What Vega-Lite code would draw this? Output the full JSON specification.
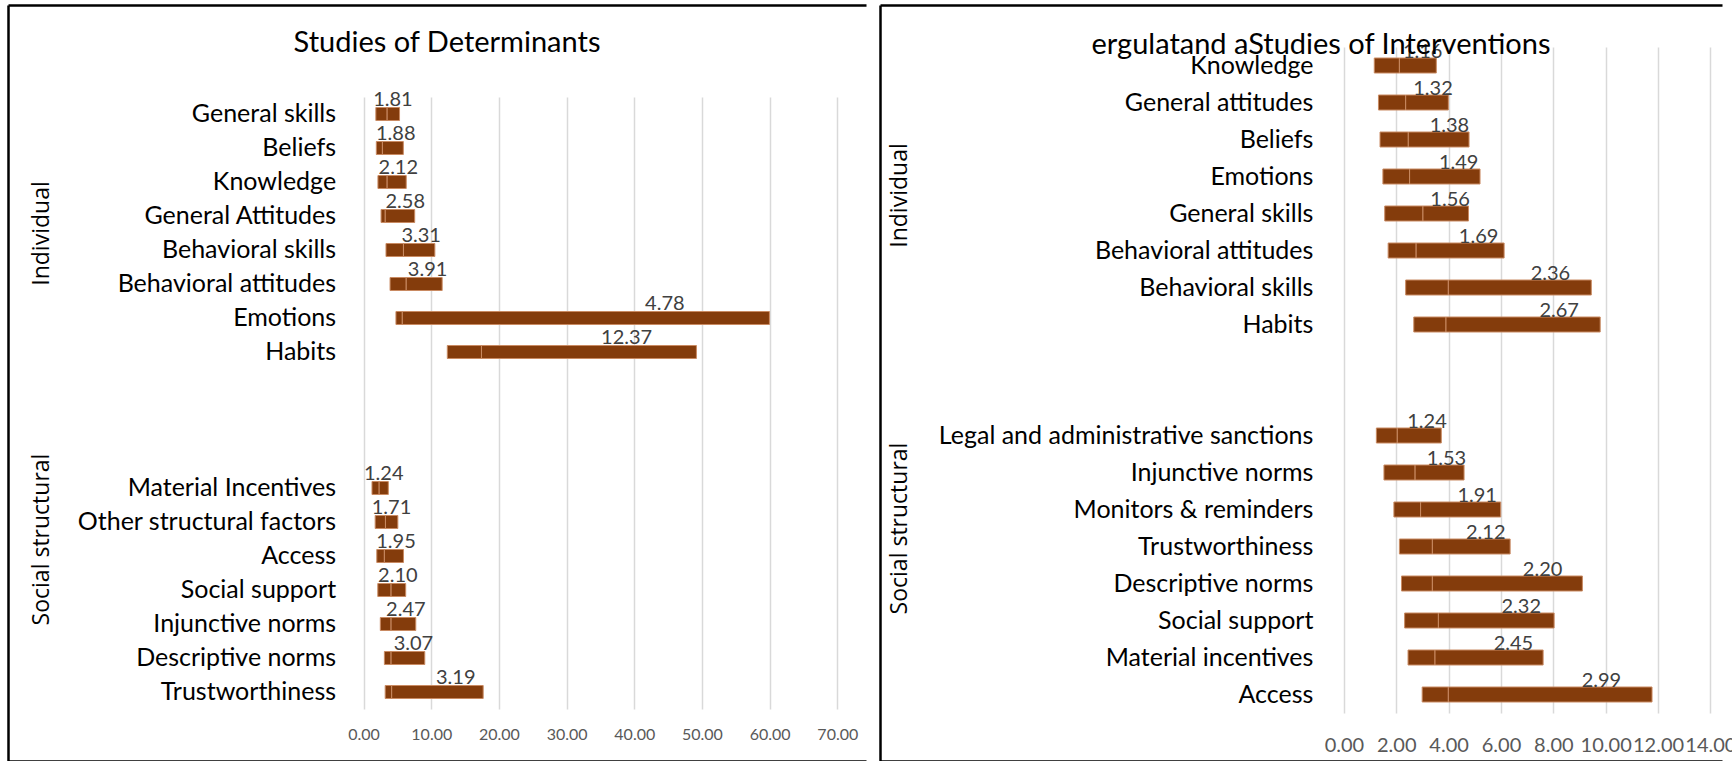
{
  "$schema": "https://vega.github.io/schema/vega-lite/v6.json",
  "padding": {"left": 8, "top": 5, "right": 0, "bottom": 0},
  "background": "white",
  "spacing": 14,
  "config": {"view": {"stroke": null}, "font": "Lato"},
  "datasets": {
    "determinants": [
      {"group": "Individual", "item": "General skills", "lo": 1.81, "mid": 3.48, "hi": 5.31},
      {"group": "Individual", "item": "Beliefs", "lo": 1.88, "mid": 2.78, "hi": 5.87},
      {"group": "Individual", "item": "Knowledge", "lo": 2.12, "mid": 3.48, "hi": 6.3},
      {"group": "Individual", "item": "General Attitudes", "lo": 2.58, "mid": 3.2, "hi": 7.55},
      {"group": "Individual", "item": "Behavioral skills", "lo": 3.31, "mid": 5.89, "hi": 10.53},
      {"group": "Individual", "item": "Behavioral attitudes", "lo": 3.91, "mid": 6.3, "hi": 11.61},
      {"group": "Individual", "item": "Emotions", "lo": 4.78, "mid": 5.72, "hi": 59.97},
      {"group": "Individual", "item": "Habits", "lo": 12.37, "mid": 17.42, "hi": 49.18},
      {"group": "Social structural", "item": "Material Incentives", "lo": 1.24, "mid": 2.3, "hi": 3.65},
      {"group": "Social structural", "item": "Other structural factors", "lo": 1.71, "mid": 3.23, "hi": 5.06},
      {"group": "Social structural", "item": "Access", "lo": 1.95, "mid": 3.07, "hi": 5.89},
      {"group": "Social structural", "item": "Social support", "lo": 2.10, "mid": 4.06, "hi": 6.22},
      {"group": "Social structural", "item": "Injunctive norms", "lo": 2.47, "mid": 4.06, "hi": 7.71},
      {"group": "Social structural", "item": "Descriptive norms", "lo": 3.07, "mid": 4.06, "hi": 9.04},
      {"group": "Social structural", "item": "Trustworthiness", "lo": 3.19, "mid": 4.15, "hi": 17.67}
    ],
    "interventions": [
      {"group": "Individual", "item": "Knowledge", "lo": 1.16, "mid": 2.12, "hi": 3.53},
      {"group": "Individual", "item": "General attitudes", "lo": 1.32, "mid": 2.36, "hi": 3.99},
      {"group": "Individual", "item": "Beliefs", "lo": 1.38, "mid": 2.46, "hi": 4.78},
      {"group": "Individual", "item": "Emotions", "lo": 1.49, "mid": 2.51, "hi": 5.2},
      {"group": "Individual", "item": "General skills", "lo": 1.56, "mid": 3.02, "hi": 4.76},
      {"group": "Individual", "item": "Behavioral attitudes", "lo": 1.69, "mid": 2.76, "hi": 6.12},
      {"group": "Individual", "item": "Behavioral skills", "lo": 2.36, "mid": 3.99, "hi": 9.45},
      {"group": "Individual", "item": "Habits", "lo": 2.67, "mid": 3.9, "hi": 9.79},
      {"group": "Social structural", "item": "Legal and administrative sanctions", "lo": 1.24, "mid": 2.04, "hi": 3.72},
      {"group": "Social structural", "item": "Injunctive norms", "lo": 1.53, "mid": 2.72, "hi": 4.59},
      {"group": "Social structural", "item": "Monitors & reminders", "lo": 1.91, "mid": 2.93, "hi": 5.99},
      {"group": "Social structural", "item": "Trustworthiness", "lo": 2.12, "mid": 3.38, "hi": 6.35},
      {"group": "Social structural", "item": "Descriptive norms", "lo": 2.20, "mid": 3.38, "hi": 9.11},
      {"group": "Social structural", "item": "Social support", "lo": 2.32, "mid": 3.61, "hi": 8.03},
      {"group": "Social structural", "item": "Material incentives", "lo": 2.45, "mid": 3.48, "hi": 7.61},
      {"group": "Social structural", "item": "Access", "lo": 2.99, "mid": 3.99, "hi": 11.77}
    ]
  },
  "hconcat": [
    {
      "width": 858,
      "height": 756,
      "title": {"text": "Studies of Determinants", "font": "Lato", "fontSize": 29, "fontWeight": "normal", "color": "black", "anchor": "middle", "frame": "group", "baseline": "middle", "offset": 0, "dy": 67, "dx": 10},
      "data": {"name": "determinants"},
      "transform": [{"calculate": "datum.lo + 0.72 * (datum.hi - datum.lo)", "as": "labelAt"}],
      "layer": [
        {
          "mark": {"type": "bar", "size": 13, "color": "#843C0C", "stroke": "#c98a62", "strokeWidth": 1},
          "encoding": {
            "x": {"field": "lo", "type": "quantitative", "scale": {"domain": [0, 70], "range": [355.6, 829.3], "nice": false, "zero": false},
              "axis": {"orient": "top", "values": [0, 10, 20, 30, 40, 50, 60, 70], "format": ".2f", "offset": 0, "labelPadding": -729, "labelBaseline": "middle", "tickSize": 0, "ticks": false, "domain": false, "grid": true, "gridColor": "#d9d9d9", "gridWidth": 1.5, "title": null, "labelFont": "Lato", "labelFontSize": 16, "labelColor": "#595959", "labelFlush": false, "labelOverlap": false}},
            "x2": {"field": "mid"},
            "y": {"field": "item", "type": "nominal",
              "scale": {"domain": ["General skills", "Beliefs", "Knowledge", "General Attitudes", "Behavioral skills", "Behavioral attitudes", "Emotions", "Habits", " ", "  ", "   ", "Material Incentives", "Other structural factors", "Access", "Social support", "Injunctive norms", "Descriptive norms", "Trustworthiness"], "range": [92, 704], "paddingInner": 0, "paddingOuter": 0},
              "axis": {"orient": "left", "offset": -355.6, "labelPadding": 28, "tickSize": 0, "ticks": false, "domain": false, "grid": false, "title": null, "labelFont": "Lato", "labelFontSize": 25, "labelColor": "black", "labelLimit": 0}}
          }
        },
        {
          "mark": {"type": "bar", "size": 13, "color": "#843C0C", "stroke": "#c98a62", "strokeWidth": 1},
          "encoding": {
            "x": {"field": "mid", "type": "quantitative", "scale": {"domain": [0, 70], "range": [355.6, 829.3], "nice": false, "zero": false}, "axis": null},
            "x2": {"field": "hi"},
            "y": {"field": "item", "type": "nominal",
              "scale": {"domain": ["General skills", "Beliefs", "Knowledge", "General Attitudes", "Behavioral skills", "Behavioral attitudes", "Emotions", "Habits", " ", "  ", "   ", "Material Incentives", "Other structural factors", "Access", "Social support", "Injunctive norms", "Descriptive norms", "Trustworthiness"], "range": [92, 704], "paddingInner": 0, "paddingOuter": 0},
              "axis": null}
          }
        },
        {
          "mark": {"type": "text", "font": "Lato", "fontSize": 20, "color": "#404040", "align": "center", "baseline": "alphabetic", "dy": -8},
          "encoding": {
            "x": {"field": "labelAt", "type": "quantitative", "scale": {"domain": [0, 70], "range": [355.6, 829.3], "nice": false, "zero": false}, "axis": null},
            "text": {"field": "lo", "type": "quantitative", "format": ".2f"},
            "y": {"field": "item", "type": "nominal",
              "scale": {"domain": ["General skills", "Beliefs", "Knowledge", "General Attitudes", "Behavioral skills", "Behavioral attitudes", "Emotions", "Habits", " ", "  ", "   ", "Material Incentives", "Other structural factors", "Access", "Social support", "Injunctive norms", "Descriptive norms", "Trustworthiness"], "range": [92, 704], "paddingInner": 0, "paddingOuter": 0},
              "axis": {"orient": "left", "offset": 0, "labelOffset": 17, "labelExpr": "datum.value === 'General Attitudes' ? 'Individual' : datum.value === 'Other structural factors' ? 'Social structural' : ''", "labelAngle": -90, "labelAlign": "center", "labelBaseline": "middle", "labelPadding": -33, "tickSize": 0, "ticks": false, "domain": false, "grid": false, "title": null, "labelFont": "Open Sans", "labelFontSize": 23, "labelColor": "black", "labelLimit": 0, "labelOverlap": false}}
          }
        },
        {
          "mark": {"type": "point", "opacity": 0, "size": 1},
          "encoding": {
            "x": {"field": "lo", "type": "quantitative", "scale": {"domain": [0, 100], "range": [0, 858], "nice": false, "zero": false},
              "axis": {"orient": "bottom", "offset": 0, "domain": true, "domainColor": "black", "domainWidth": 2.5, "labels": false, "ticks": false, "grid": false, "title": null}},
            "y": {"field": "item", "type": "nominal", "scale": {"range": [0, 756]},
              "axis": {"orient": "left", "offset": 0, "domain": true, "domainColor": "black", "domainWidth": 2.5, "labels": false, "ticks": false, "grid": false, "title": null}}
          }
        },
        {
          "mark": {"type": "point", "opacity": 0, "size": 1},
          "encoding": {
            "x": {"field": "lo", "type": "quantitative", "scale": {"domain": [0, 100], "range": [0, 858], "nice": false, "zero": false},
              "axis": {"orient": "top", "offset": 0, "domain": true, "domainColor": "black", "domainWidth": 2.5, "labels": false, "ticks": false, "grid": false, "title": null}},
            "y": {"field": "item", "type": "nominal", "scale": {"range": [0, 756]}, "axis": null}
          }
        }
      ],
      "resolve": {"scale": {"x": "independent", "y": "independent"}, "axis": {"x": "independent", "y": "independent"}}
    },
    {
      "width": 842,
      "height": 756,
      "title": {"text": "ergulatand aStudies of Interventions", "font": "Lato", "fontSize": 29, "fontWeight": "normal", "color": "black", "anchor": "middle", "frame": "group", "baseline": "middle", "offset": 0, "dy": 69, "dx": 20},
      "data": {"name": "interventions"},
      "transform": [{"calculate": "datum.lo + 0.78 * (datum.hi - datum.lo)", "as": "labelAt"}],
      "layer": [
        {
          "mark": {"type": "bar", "size": 15, "color": "#843C0C", "stroke": "#c98a62", "strokeWidth": 1},
          "encoding": {
            "x": {"field": "lo", "type": "quantitative", "scale": {"domain": [0, 14], "range": [463.9, 830.4], "nice": false, "zero": false},
              "axis": {"orient": "top", "values": [0, 2, 4, 6, 8, 10, 12, 14], "format": ".2f", "offset": 0, "labelPadding": -740, "labelBaseline": "middle", "tickSize": 0, "ticks": false, "domain": false, "grid": true, "gridColor": "#d9d9d9", "gridWidth": 1.5, "title": null, "labelFont": "Lato", "labelFontSize": 20, "labelColor": "#595959", "labelFlush": false, "labelOverlap": false}},
            "x2": {"field": "mid"},
            "y": {"field": "item", "type": "nominal",
              "scale": {"domain": ["Knowledge", "General attitudes", "Beliefs", "Emotions", "General skills", "Behavioral attitudes", "Behavioral skills", "Habits", " ", "  ", "Legal and administrative sanctions", "Injunctive norms", "Monitors & reminders", "Trustworthiness", "Descriptive norms", "Social support", "Material incentives", "Access"], "range": [42, 708], "paddingInner": 0, "paddingOuter": 0},
              "axis": {"orient": "left", "offset": -463.9, "labelPadding": 31, "tickSize": 0, "ticks": false, "domain": false, "grid": false, "title": null, "labelFont": "Lato", "labelFontSize": 25, "labelColor": "black", "labelLimit": 0}}
          }
        },
        {
          "mark": {"type": "bar", "size": 15, "color": "#843C0C", "stroke": "#c98a62", "strokeWidth": 1},
          "encoding": {
            "x": {"field": "mid", "type": "quantitative", "scale": {"domain": [0, 14], "range": [463.9, 830.4], "nice": false, "zero": false}, "axis": null},
            "x2": {"field": "hi"},
            "y": {"field": "item", "type": "nominal",
              "scale": {"domain": ["Knowledge", "General attitudes", "Beliefs", "Emotions", "General skills", "Behavioral attitudes", "Behavioral skills", "Habits", " ", "  ", "Legal and administrative sanctions", "Injunctive norms", "Monitors & reminders", "Trustworthiness", "Descriptive norms", "Social support", "Material incentives", "Access"], "range": [42, 708], "paddingInner": 0, "paddingOuter": 0},
              "axis": null}
          }
        },
        {
          "mark": {"type": "text", "font": "Lato", "fontSize": 20, "color": "#404040", "align": "center", "baseline": "alphabetic", "dy": -7.5},
          "encoding": {
            "x": {"field": "labelAt", "type": "quantitative", "scale": {"domain": [0, 14], "range": [463.9, 830.4], "nice": false, "zero": false}, "axis": null},
            "text": {"field": "lo", "type": "quantitative", "format": ".2f"},
            "y": {"field": "item", "type": "nominal",
              "scale": {"domain": ["Knowledge", "General attitudes", "Beliefs", "Emotions", "General skills", "Behavioral attitudes", "Behavioral skills", "Habits", " ", "  ", "Legal and administrative sanctions", "Injunctive norms", "Monitors & reminders", "Trustworthiness", "Descriptive norms", "Social support", "Material incentives", "Access"], "range": [42, 708], "paddingInner": 0, "paddingOuter": 0},
              "axis": {"orient": "left", "offset": 0, "labelOffset": 18.5, "labelExpr": "datum.value === 'Emotions' ? 'Individual' : datum.value === 'Monitors & reminders' ? 'Social structural' : ''", "labelAngle": -90, "labelAlign": "center", "labelBaseline": "middle", "labelPadding": -19, "tickSize": 0, "ticks": false, "domain": false, "grid": false, "title": null, "labelFont": "Open Sans", "labelFontSize": 23, "labelColor": "black", "labelLimit": 0, "labelOverlap": false}}
          }
        },
        {
          "mark": {"type": "point", "opacity": 0, "size": 1},
          "encoding": {
            "x": {"field": "lo", "type": "quantitative", "scale": {"domain": [0, 100], "range": [0, 842], "nice": false, "zero": false},
              "axis": {"orient": "bottom", "offset": 0, "domain": true, "domainColor": "black", "domainWidth": 2.5, "labels": false, "ticks": false, "grid": false, "title": null}},
            "y": {"field": "item", "type": "nominal", "scale": {"range": [0, 756]},
              "axis": {"orient": "left", "offset": 0, "domain": true, "domainColor": "black", "domainWidth": 2.5, "labels": false, "ticks": false, "grid": false, "title": null}}
          }
        },
        {
          "mark": {"type": "point", "opacity": 0, "size": 1},
          "encoding": {
            "x": {"field": "lo", "type": "quantitative", "scale": {"domain": [0, 100], "range": [0, 842], "nice": false, "zero": false},
              "axis": {"orient": "top", "offset": 0, "domain": true, "domainColor": "black", "domainWidth": 2.5, "labels": false, "ticks": false, "grid": false, "title": null}},
            "y": {"field": "item", "type": "nominal", "scale": {"range": [0, 756]}, "axis": null}
          }
        }
      ],
      "resolve": {"scale": {"x": "independent", "y": "independent"}, "axis": {"x": "independent", "y": "independent"}}
    }
  ]
}
